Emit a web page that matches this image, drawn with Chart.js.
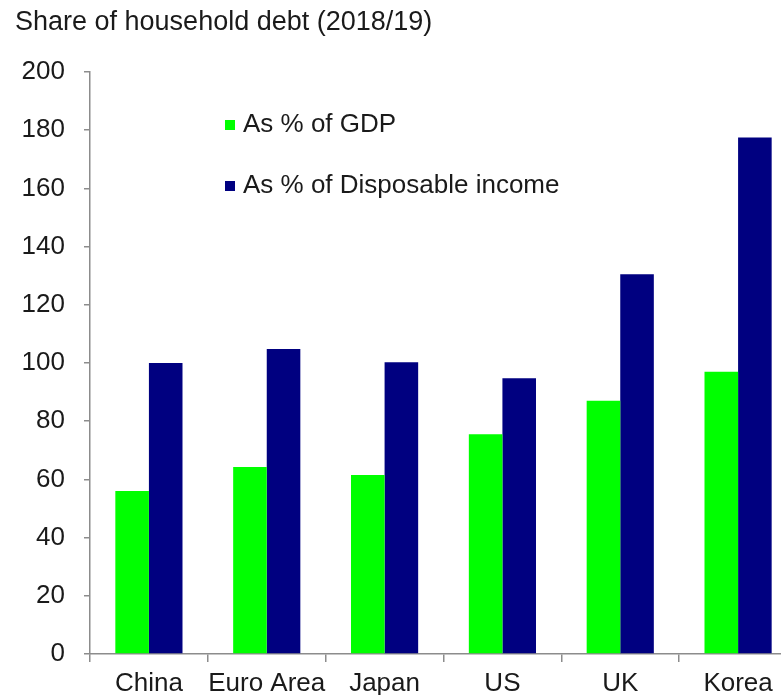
<!DOCTYPE html>
<html>
<head>
<meta charset="utf-8">
<script src="https://cdn.jsdelivr.net/npm/chart.js@4.4.0/dist/chart.umd.min.js"></script>
<style>
  html, body { margin: 0; padding: 0; background: #fff; overflow: hidden; }
  #wrap { position: relative; width: 800px; height: 695px; }
</style>
</head>
<body>
<div id="wrap"><canvas id="chart"></canvas></div>
<script>
// datos
const categorias = ['China', 'Euro Area', 'Japan', 'US', 'UK', 'Korea'];
const pctPIB = [56, 64.3, 61.5, 75.5, 87, 97];
const pctIngreso = [100, 104.8, 100.3, 94.8, 130.5, 177.5];
const ticksY = [0, 20, 40, 60, 80, 100, 120, 140, 160, 180, 200];

const titulo = 'Share of household debt (2018/19)';
const fuente = '"Liberation Sans", Arial, sans-serif';
const gris = '#8c8c8c';

// titulo y leyenda dibujados a mano (la leyenda va dentro del área)
const extras = {
  id: 'extras',
  afterDraw(chart) {
    const ctx = chart.ctx;
    ctx.save();
    ctx.fillStyle = '#1a1a1a';
    ctx.textBaseline = 'middle';
    ctx.textAlign = 'left';
    ctx.font = '27px ' + fuente;
    ctx.fillText(titulo, 15, 23);

    ctx.font = '26px ' + fuente;
    const filas = [125, 186];
    chart.data.datasets.forEach((ds, i) => {
      ctx.fillStyle = ds.backgroundColor;
      ctx.fillRect(225, filas[i] - 5, 10, 10);
      ctx.fillStyle = '#1a1a1a';
      ctx.fillText(ds.label, 243, filas[i]);
    });
    ctx.restore();
  }
};

new Chart(document.getElementById('chart'), {
  type: 'bar',
  data: {
    labels: categorias,
    datasets: [
      { label: 'As % of GDP', data: pctPIB, backgroundColor: '#00ff00' },
      { label: 'As % of Disposable income', data: pctIngreso, backgroundColor: '#000080' }
    ]
  },
  options: {
    responsive: true,
    maintainAspectRatio: false,
    animation: false,
    layout: { padding: { top: 72, right: 3, left: 0, bottom: 0 } },
    datasets: { bar: { categoryPercentage: 0.57, barPercentage: 1.0 } },
    plugins: { legend: { display: false }, tooltip: { enabled: false } },
    scales: {
      x: {
        grid: { drawOnChartArea: false, drawTicks: true, tickLength: 8, color: gris, lineWidth: 1.5 },
        border: { color: gris, width: 1.5 },
        ticks: { font: { family: fuente, size: 26 }, color: '#1a1a1a', padding: 6, maxRotation: 0, autoSkip: false },
        afterFit(scale) { scale.height = 41; }
      },
      y: {
        min: 0,
        max: 200,
        afterBuildTicks(scale) { scale.ticks = ticksY.map(v => ({ value: v })); },
        grid: { drawOnChartArea: false, drawTicks: true, tickLength: 6, color: gris, lineWidth: 1.5 },
        border: { color: gris, width: 1.5 },
        ticks: { font: { family: fuente, size: 26 }, color: '#1a1a1a', padding: 19 },
        afterFit(scale) { scale.width = 90; }
      }
    }
  },
  plugins: [extras]
});
</script>
</body>
</html>
